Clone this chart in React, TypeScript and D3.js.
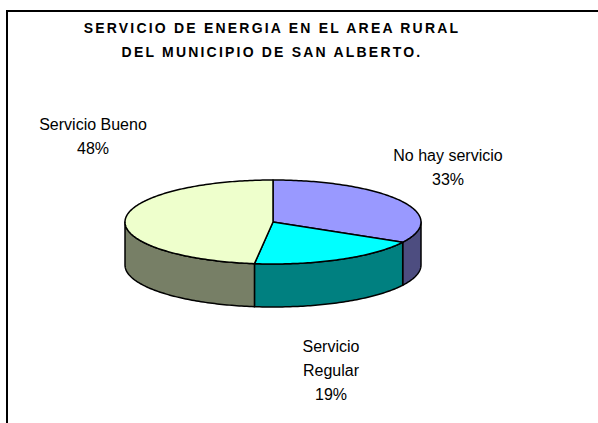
import { useEffect, useRef } from "react";
import * as d3 from "d3";

const W = 598,
  H = 423;

// data
const labels = ["No hay servicio", "Servicio Regular", "Servicio Bueno"];
const values = [33, 19, 48];
const topColors = ["#9999FF", "#00FFFF", "#EEFFCC"];
const sideColors = ["#4D4D80", "#008080", "#777F66"];
const titleLines = [
  "SERVICIO DE ENERGIA EN EL AREA RURAL",
  "DEL MUNICIPIO DE SAN ALBERTO.",
];

// pie geometry
const cx = 273,
  cy = 222,
  rx = 148,
  ry = 42,
  depth = 43;

// label placement (offset from pie center), one per slice
const labelOffsets = [
  { dx: 175, dy: -54, lines: ["No hay servicio"] },
  { dx: 58, dy: 149, lines: ["Servicio", "Regular"] },
  { dx: -180, dy: -85, lines: ["Servicio Bueno"] },
];

const pt = (a: number, dy = 0): [number, number] => [
  cx + rx * Math.sin(a),
  cy - ry * Math.cos(a) + dy,
];

const arcPoints = (a0: number, a1: number, dy = 0) => {
  const n = Math.max(2, Math.ceil(((a1 - a0) * 180) / Math.PI));
  return d3.range(n + 1).map((i) => pt(a0 + ((a1 - a0) * i) / n, dy));
};

export default function App() {
  const ref = useRef<SVGSVGElement | null>(null);

  useEffect(() => {
    const svg = d3.select(ref.current);
    svg.selectAll("*").remove();

    // frame
    svg
      .append("path")
      .attr("d", `M${W + 5},11 L7,11 L7,${H + 5}`)
      .attr("fill", "none")
      .attr("stroke", "#000")
      .attr("stroke-width", 2);

    // title
    svg
      .append("g")
      .selectAll("text")
      .data(titleLines)
      .join("text")
      .attr("x", 272)
      .attr("y", (_d, i) => 33 + i * 24)
      .attr("text-anchor", "middle")
      .attr("font-family", "Liberation Sans, Arial, sans-serif")
      .attr("font-weight", "bold")
      .attr("font-size", 14)
      .attr("letter-spacing", 2.2)
      .text((d) => d);

    const pie = d3
      .pie<number>()
      .sort(null)
      .value((d) => d);
    const arcs = pie(values);

    const line = d3.line();

    // outer side walls (front half only: angles between PI/2 and 3PI/2)
    const sides = svg.append("g");
    arcs.forEach((a, i) => {
      const a0 = Math.max(a.startAngle, Math.PI / 2);
      const a1 = Math.min(a.endAngle, (3 * Math.PI) / 2);
      if (a1 <= a0) return;
      const top = arcPoints(a0, a1);
      const bottom = arcPoints(a0, a1, depth).reverse();
      sides
        .append("path")
        .attr("d", line([...top, ...bottom])! + "Z")
        .attr("fill", sideColors[i])
        .attr("stroke", "#000")
        .attr("stroke-width", 1.5)
        .attr("stroke-linejoin", "round");
    });

    // top faces
    const tops = svg.append("g");
    arcs.forEach((a, i) => {
      const p = [[cx, cy] as [number, number], ...arcPoints(a.startAngle, a.endAngle)];
      tops
        .append("path")
        .attr("d", line(p)! + "Z")
        .attr("fill", topColors[i])
        .attr("stroke", "#000")
        .attr("stroke-width", 1.5)
        .attr("stroke-linejoin", "round");
    });

    // labels
    const lg = svg
      .append("g")
      .attr("font-family", "Liberation Sans, Arial, sans-serif")
      .attr("font-size", 16)
      .attr("text-anchor", "middle");
    arcs.forEach((a, i) => {
      const o = labelOffsets[i];
      const pct = Math.round((a.value / d3.sum(values)) * 100) + "%";
      const rows = [...o.lines, pct];
      const n = rows.length;
      lg.append("g")
        .attr("aria-label", labels[i])
        .selectAll("text")
        .data(rows)
        .join("text")
        .attr("x", cx + o.dx)
        .attr("y", (_d, k) => cy + o.dy + (k - (n - 1) / 2) * 24 + 5)
        .text((d) => d);
    });
  }, []);

  return (
    <div style={{ position: "absolute", left: 0, top: 0 }}>
      <svg ref={ref} width={W} height={H} style={{ display: "block", background: "#fff" }} />
    </div>
  );
}
